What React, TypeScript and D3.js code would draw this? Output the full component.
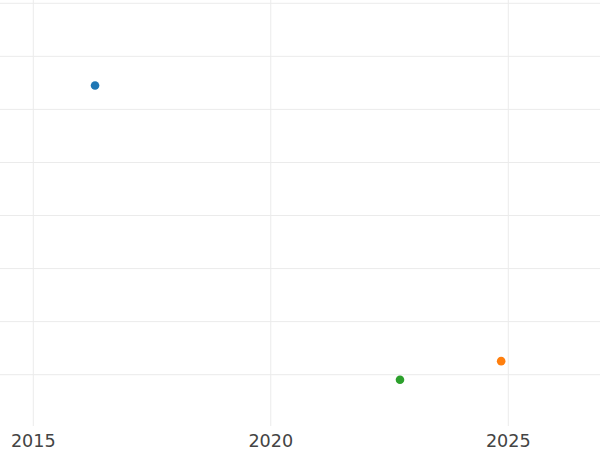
import React from "react";
import * as d3 from "d3";

const years = [2016.3, 2022.72, 2024.85];
const values = [64.5, 9.05, 12.55];
const colors = ["#1f77b4", "#2ca02c", "#ff7f0e"];
const xTicks = [2015, 2020, 2025];
const yTicks = [10, 20, 30, 40, 50, 60, 70, 80];

const W = 600;
const H = 450;
const plotBottom = 426;

export default function App() {
  const x = d3.scaleLinear().domain([2014.299, 2026.931]).range([0, W]);
  const y = d3.scaleLinear().domain([0.33, 80.62]).range([plotBottom, 0]);
  return (
    <svg
      width={W}
      height={H}
      style={{ position: "fixed", left: 0, top: 0, background: "#fff" }}
    >
      <g>
        {yTicks.map((t) => (
          <line key={"y" + t} x1={0} x2={W} y1={y(t)} y2={y(t)} stroke="#ebebeb" strokeWidth={1} />
        ))}
        {xTicks.map((t) => (
          <line key={"x" + t} x1={x(t)} x2={x(t)} y1={0} y2={plotBottom} stroke="#ebebeb" strokeWidth={1} />
        ))}
      </g>
      <g>
        {years.map((yr, i) => (
          <circle key={i} cx={x(yr)} cy={y(values[i])} r={4.3} fill={colors[i]} />
        ))}
      </g>
      <g fontFamily="DejaVu Sans" fontSize={17.6} fill="#444" textAnchor="middle">
        {xTicks.map((t) => (
          <text key={t} x={x(t)} y={447}>
            {t}
          </text>
        ))}
      </g>
    </svg>
  );
}
